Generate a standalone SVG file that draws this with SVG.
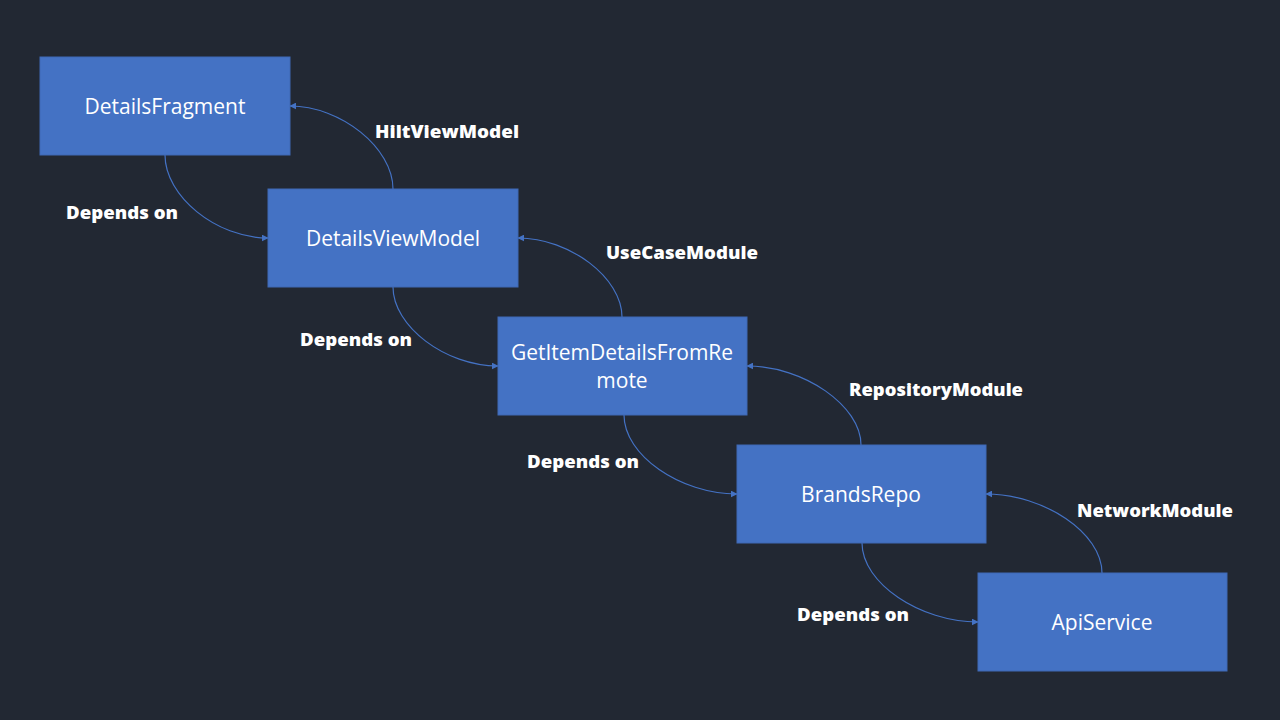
<svg xmlns="http://www.w3.org/2000/svg" width="1280" height="720" viewBox="0 0 1280 720">
<style>
.box{fill:#4472c4;stroke:#3f69b5;stroke-width:1}
.bt{font-family:"Open Sans","Liberation Sans",sans-serif;font-size:21px;fill:#ffffff;text-anchor:middle;dominant-baseline:central}
.lb{font-family:"Open Sans","Liberation Sans",sans-serif;font-size:17.5px;font-weight:800;fill:#ffffff;dominant-baseline:central}
.cn{fill:none;stroke:#4472c4;stroke-width:1.2;marker-end:url(#ah)}
</style>
<defs>
<marker id="ah" viewBox="0 0 10 10" refX="9" refY="5" markerWidth="7" markerHeight="7" markerUnits="userSpaceOnUse" orient="auto">
<path d="M0,0 L10,5 L0,10 Z" fill="#4472c4"/>
</marker>
</defs>
<rect width="1280" height="720" fill="#222833"/>
<g id="connectors">
<path class="cn" d="M165,155 C165,196 216,238 268,238"/>
<path class="cn" d="M393,189 C393,148 341,106 290,106"/>
<path class="cn" d="M393,287 C393,326 445,366 498,366"/>
<path class="cn" d="M622,317 C622,278 570,238 518,238"/>
<path class="cn" d="M624,415 C624,455 680,494 737,494"/>
<path class="cn" d="M861,445 C861,406 804,366 747,366"/>
<path class="cn" d="M862,543 C862,583 920,622 978,622"/>
<path class="cn" d="M1102,573 C1102,533 1044,494 986,494"/>
</g>
<g id="labels">
<text class="lb" x="375" y="131" textLength="144" lengthAdjust="spacingAndGlyphs">HiltViewModel</text>
<text class="lb" x="66" y="212" textLength="112" lengthAdjust="spacingAndGlyphs">Depends on</text>
<text class="lb" x="606" y="252" textLength="152" lengthAdjust="spacingAndGlyphs">UseCaseModule</text>
<text class="lb" x="300" y="339" textLength="112" lengthAdjust="spacingAndGlyphs">Depends on</text>
<text class="lb" x="849" y="389" textLength="174" lengthAdjust="spacingAndGlyphs">RepositoryModule</text>
<text class="lb" x="527" y="461" textLength="112" lengthAdjust="spacingAndGlyphs">Depends on</text>
<text class="lb" x="1077" y="510" textLength="156" lengthAdjust="spacingAndGlyphs">NetworkModule</text>
<text class="lb" x="797" y="614" textLength="112" lengthAdjust="spacingAndGlyphs">Depends on</text>
</g>
<g id="DetailsFragment">
<rect class="box" x="40" y="57" width="250" height="98"/>
<text class="bt" x="165" y="106">DetailsFragment</text>
</g>
<g id="DetailsViewModel">
<rect class="box" x="268" y="189" width="250" height="98"/>
<text class="bt" x="393" y="238">DetailsViewModel</text>
</g>
<g id="GetItemDetailsFromRemote">
<rect class="box" x="498" y="317" width="249" height="98"/>
<text class="bt" x="622" y="352">GetItemDetailsFromRe</text>
<text class="bt" x="622" y="380">mote</text>
</g>
<g id="BrandsRepo">
<rect class="box" x="737" y="445" width="249" height="98"/>
<text class="bt" x="861" y="494">BrandsRepo</text>
</g>
<g id="ApiService">
<rect class="box" x="978" y="573" width="249" height="98"/>
<text class="bt" x="1102" y="622">ApiService</text>
</g>
</svg>
